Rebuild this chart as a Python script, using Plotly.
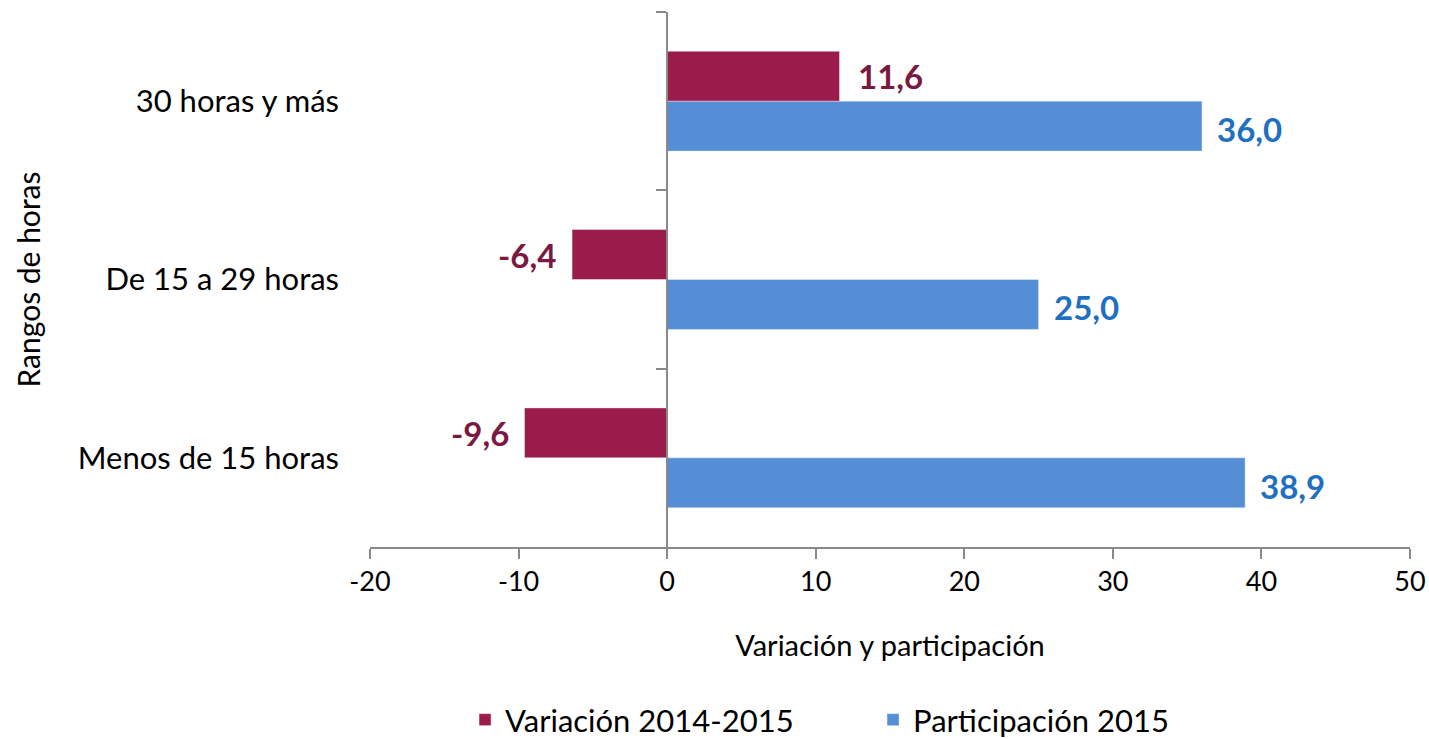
import plotly.graph_objects as go

categories = ["Menos de 15 horas", "De 15 a 29 horas", "30 horas y más"]
variacion = [-9.6, -6.4, 11.6]
participacion = [38.9, 25.0, 36.0]
x_ticks = [-20, -10, 0, 10, 20, 30, 40, 50]

FONT = "Lato, 'Open Sans', sans-serif"
RED = "#9B1B4A"
BLUE = "#558ED5"
RED_TXT = "#7A1A42"
BLUE_TXT = "#1F70C1"

def fmt(v):
    return f"{v:.1f}".replace(".", ",")

fig = go.Figure()
fig.add_trace(go.Bar(
    y=categories, x=participacion, orientation="h", name="Participación 2015",
    marker=dict(color=BLUE), legendrank=2, hoverinfo="x+y"))
fig.add_trace(go.Bar(
    y=categories, x=variacion, orientation="h", name="Variación 2014-2015",
    marker=dict(color=RED), legendrank=1, hoverinfo="x+y"))

# data labels
offset = 0.14
for i, c in enumerate(categories):
    v = variacion[i]
    fig.add_annotation(x=v, y=i + offset, xref="x", yref="y", text=fmt(v),
                       showarrow=False, xanchor="left" if v >= 0 else "right",
                       xshift=17 if v >= 0 else -14,
                       font=dict(family=FONT, size=33, color=RED_TXT, weight="bold"))
    p = participacion[i]
    fig.add_annotation(x=p, y=i - offset, xref="x", yref="y", text=fmt(p),
                       showarrow=False, xanchor="left", xshift=13, yshift=-3,
                       font=dict(family=FONT, size=33, color=BLUE_TXT, weight="bold"))

fig.update_layout(
    width=1429, height=739,
    margin=dict(l=370, r=19, t=12, b=192, autoexpand=False),
    paper_bgcolor="white", plot_bgcolor="white",
    barmode="group", bargap=0.44, bargroupgap=0,
    font=dict(family=FONT, size=27, color="#000000"),
    xaxis=dict(
        range=[-20, 50], tickvals=x_ticks, ticktext=[str(t) for t in x_ticks],
        showgrid=False, zeroline=False, showline=True, linecolor="#898989",
        linewidth=1.5, ticks="outside", ticklen=10, tickcolor="#898989",
        tickwidth=1.5, tickfont=dict(size=27, family=FONT),
        title=dict(text="Variación y participación", font=dict(size=29, family=FONT),
                   standoff=40),
        automargin=False, fixedrange=True),
    yaxis=dict(
        type="category", categoryorder="array", categoryarray=categories,
        range=[-0.5, 2.5], showgrid=False, zeroline=False, showline=False,
        ticks="", tickfont=dict(size=31, family=FONT), ticklabelstandoff=30,
        title=dict(text="Rangos de horas", font=dict(size=30, family=FONT),
                   standoff=28),
        automargin=False, fixedrange=True),
    yaxis2=dict(
        overlaying="y", anchor="free", position=(0 - (-20)) / 70,
        range=[-0.5, 2.5], tickvals=[0.5, 1.5, 2.5], showticklabels=False,
        showgrid=False, zeroline=False, showline=True, linecolor="#898989",
        linewidth=1.5, ticks="outside", ticklen=10, tickcolor="#898989",
        tickwidth=1.5, fixedrange=True),
    legend=dict(orientation="h", x=0.4837, xanchor="center", y=-0.3234, yanchor="middle",
                font=dict(size=31, family=FONT), entrywidth=363,
                entrywidthmode="pixels",
                traceorder="normal", tracegroupgap=0),
    showlegend=True,
)

# invisible trace to attach yaxis2
fig.add_trace(go.Scatter(x=[None], y=[None], yaxis="y2", showlegend=False,
                         hoverinfo="skip"))

fig.write_html("out.html", config={"displayModeBar": False},
               post_script="document.body.style.margin='0';document.body.style.overflow='hidden';")
